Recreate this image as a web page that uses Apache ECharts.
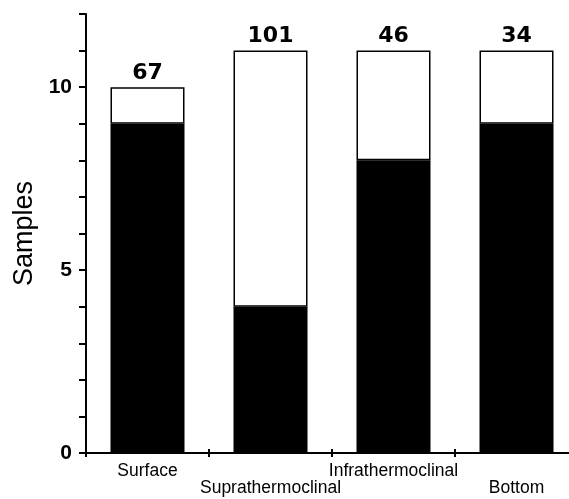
<!DOCTYPE html>
<html><head><meta charset="utf-8">
<script src="https://cdn.jsdelivr.net/npm/echarts@6/dist/echarts.min.js"></script>
<style>html,body{margin:0;padding:0;background:#fff}#c{width:569px;height:499px}</style>
</head><body><div id="c"></div>
<script>
const categories = ['Surface', 'Suprathermoclinal', 'Infrathermoclinal', 'Bottom'];
const blackValues = [9, 4, 8, 9];
const whiteValues = [1, 7, 3, 2];
const topLabels = ['67', '101', '46', '34'];
const yTickLabels = [0, 5, 10];

const chart = echarts.init(document.getElementById('c'));
const font = 'Liberation Sans, Arial, sans-serif';
chart.setOption({
  animation: false,
  grid: { left: 86, top: 14, width: 492, bottom: 46, outerBoundsMode: 'none', containLabel: false },
  xAxis: [{
    type: 'category', data: categories,
    axisLine: { lineStyle: { color: '#000', width: 2 } },
    axisTick: { show: true, length: 4, lineStyle: { color: '#000', width: 2 }, interval: 0 },
    axisLabel: {
      interval: 0, color: '#000', fontFamily: font, fontSize: 17.5, margin: 10, lineHeight: 17,
      formatter: (v, i) => (i % 2 ? '\n' + v : v)
    }
  }, {
    type: 'category', data: categories, position: 'bottom',
    axisLine: { show: false },
    axisTick: { show: true, inside: true, length: 4, lineStyle: { color: '#000', width: 2 }, interval: 0 },
    axisLabel: { show: false }
  }],
  yAxis: {
    type: 'value', min: 0, max: 12, interval: 1,
    name: 'Samples', nameLocation: 'middle', nameGap: 44,
    nameTextStyle: { color: '#000', fontFamily: font, fontSize: 27 },
    axisLine: { show: true, lineStyle: { color: '#000', width: 2 } },
    axisTick: { show: true, length: 7, lineStyle: { color: '#000', width: 2 } },
    splitLine: { show: false },
    axisLabel: {
      color: '#000', fontFamily: font, fontSize: 21, fontWeight: 'bold', margin: 14,
      formatter: v => (yTickLabels.includes(v) ? String(v) : '')
    }
  },
  series: [
    {
      type: 'bar', stack: 's', data: blackValues, barWidth: 74,
      itemStyle: { color: '#000', borderColor: '#000', borderWidth: 1.5 }
    },
    {
      type: 'bar', stack: 's', data: whiteValues, barWidth: 74,
      itemStyle: { color: '#fff', borderColor: '#000', borderWidth: 1.5 },
      label: {
        show: true, position: 'top', distance: 3, color: '#000',
        fontFamily: 'DejaVu Sans, sans-serif', fontSize: 22, fontWeight: 'bold',
        formatter: p => topLabels[p.dataIndex]
      }
    }
  ]
});
</script></body></html>
